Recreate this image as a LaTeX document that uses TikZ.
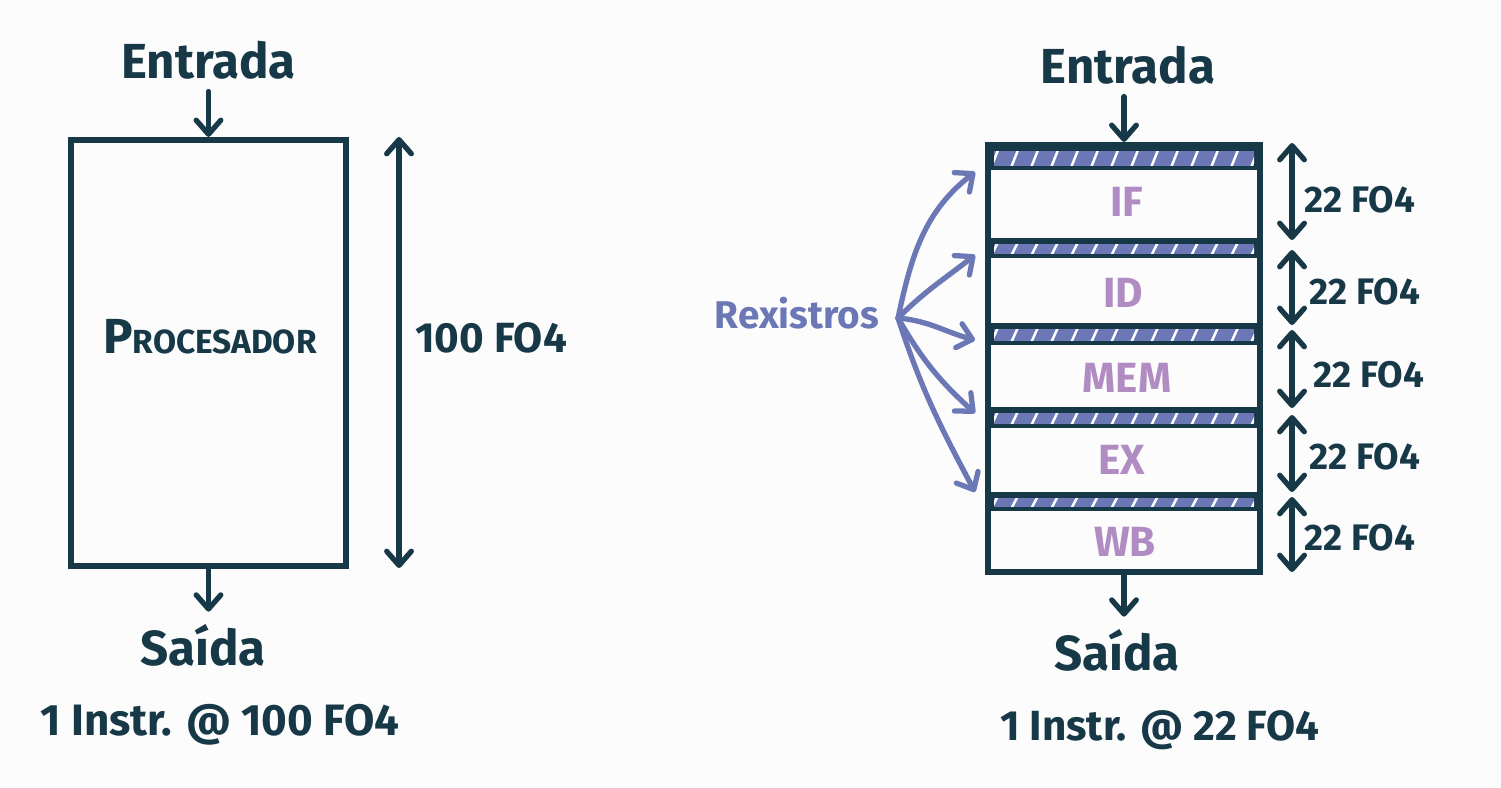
\documentclass[tikz,border=0pt]{standalone}
\usepackage{fontspec}
\setmainfont{Fira Sans}
\usetikzlibrary{positioning,calc,arrows.meta}

\definecolor{ink}{HTML}{173847}
\definecolor{regblue}{HTML}{6B78B5}
\definecolor{stagepurple}{HTML}{B08CC2}
\definecolor{paper}{HTML}{FCFCFD}

\tikzset{
  hand/.style={text=ink, font=\bfseries\fontsize{14}{16}\selectfont},
  small/.style={text=ink, font=\bfseries\fontsize{10.5}{12}\selectfont},
  stagename/.style={text=stagepurple, font=\bfseries\fontsize{12}{14}\selectfont},
  cpu/.style={draw=ink, line width=1.7pt, inner sep=0pt},
  barb/.tip={Straight Barb[length=4pt,width=7pt,round]},
  flow/.style={draw=ink, line width=1.5pt, line cap=round, -barb},
  dim/.style={draw=ink, line width=1.5pt, line cap=round, barb-barb},
  regarrow/.style={draw=regblue, line width=1.5pt, line cap=round, -barb}
}

\begin{document}
\begin{tikzpicture}[x=0.01cm, y=-0.01cm]
  \fill[paper] (0,0) rectangle (1501,787);
  \useasboundingbox (0,0) rectangle (1501,787);

  % one stage
  \node[cpu, minimum width=2.75cm, minimum height=4.26cm] (proc) at (208.5,353) {};
  \node[text=ink, font=\bfseries] (proctext) at (210,337)
    {{\fontsize{14}{14}\selectfont P}\fontsize{9.5}{10}\selectfont ROCESADOR};
  \node[hand] (in1) at (208.5,60) {Entrada};
  \node[hand] (out1) at (203,645) {Saída};
  \node[hand, font=\bfseries\fontsize{12}{14}\selectfont] (t1) at (491,338) {100 FO4};
  \node[hand, font=\bfseries\fontsize{12.5}{14}\selectfont] (sum1) at (220,725) {1 Instr. @ 100 FO4};
  \coordinate (d1a) at (399,137);
  \coordinate (d1b) at (399,568);

  \path
    (in1) edge[flow] (proc.north)
    (proc.south) edge[flow] (out1.north -| proc.south)
    (d1a) edge[dim] (d1b);

  % pipeline
  \node[cpu, minimum width=2.72cm, minimum height=4.27cm] (pipe) at (1124,358.5) {};
  \foreach \n/\t/\b in {1/145/170, 2/238/258, 3/323/345, 4/407/428, 5/492/511} {
    \fill[ink] (988,\t) rectangle (1260,\b);
    \begin{scope}
      \clip (994,{\t+6}) rectangle (1254,{\b-5});
      \fill[regblue] (994,\t) rectangle (1254,\b);
      \foreach \x in {990,1010,...,1260}
        \draw[white, line width=0.7pt] (\x,{\b}) -- ({\x+10},{\t});
    \end{scope}
  }

  \node[stagename] (s1) at (1127,202) {IF};
  \node[stagename] (s2) at (1123,293) {ID};
  \node[stagename] (s3) at (1127,378) {MEM};
  \node[stagename] (s4) at (1122,460) {EX};
  \node[stagename] (s5) at (1125,542) {WB};

  \node[hand] (in2) at (1128,65) {Entrada};
  \node[hand] (out2) at (1117,650) {Saída};
  \node[hand, font=\bfseries\fontsize{12}{14}\selectfont] (sum2) at (1160,730) {1 Instr. @ 22 FO4};

  \path
    (in2.south -| pipe.north) edge[flow] (pipe.north)
    (pipe.south) edge[flow] (out2.north -| pipe.south);

  \foreach \n/\a/\b/\ly/\lx in {1/143/240/200/1360, 2/250/325/292/1365, 3/330/408/375/1369,
                                4/415/492/457/1365, 5/497/572/538/1360} {
    \coordinate (f\n a) at (1292,\a);
    \coordinate (f\n b) at (1292,\b);
    \draw[dim] (f\n a) -- (f\n b);
    \node[small] (fo\n) at (\lx,\ly) {22 FO4};
  }

  % registers
  \node[text=regblue, font=\bfseries\fontsize{11}{13}\selectfont] (rex) at (797,313) {Rexistros};
  \coordinate (fan) at (898,318);
  \coordinate (r1) at (975,172);
  \coordinate (r2) at (975,255);
  \coordinate (r3) at (975,340);
  \coordinate (r4) at (975,413);
  \coordinate (r5) at (975,492);

  \path
    (fan) edge[regarrow, out=78, in=218] (r1)
    (fan) edge[regarrow, out=45, in=218] (r2)
    (fan) edge[regarrow, out=-5, in=165] (r3)
    (fan) edge[regarrow, out=-60, in=138] (r4)
    (fan) edge[regarrow, out=-72, in=118] (r5);
\end{tikzpicture}
\end{document}
